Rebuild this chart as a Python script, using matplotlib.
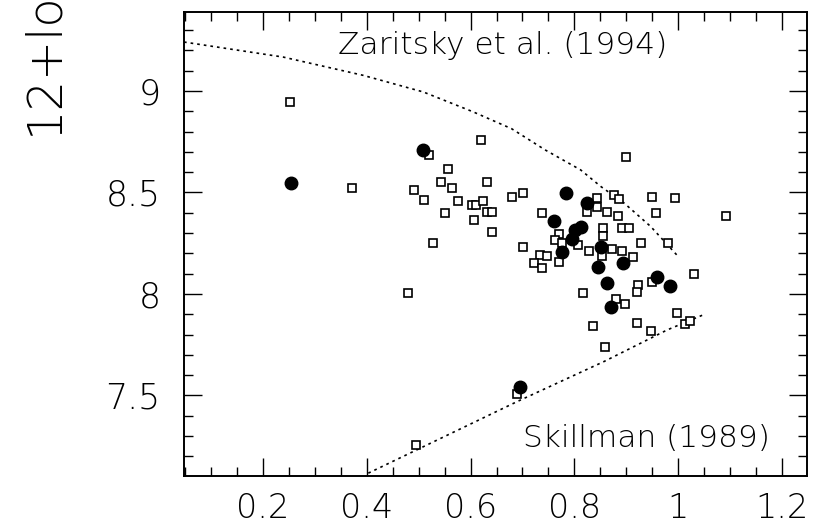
import matplotlib
matplotlib.use("Agg")
import matplotlib.pyplot as plt
from matplotlib.ticker import MultipleLocator, FuncFormatter

# ---- data ----
sq_x = [0.2515, 0.372, 0.480, 0.491, 0.511, 0.519, 0.527, 0.543, 0.551, 0.556,
        0.564, 0.576, 0.603, 0.611, 0.607, 0.620, 0.623, 0.631, 0.631, 0.642,
        0.641, 0.680, 0.701, 0.738, 0.844, 0.824, 0.844, 0.863, 0.876, 0.885,
        0.884, 0.900, 0.949, 0.994, 0.958, 1.092, 0.856, 0.892, 0.905, 0.771,
        0.856, 0.762, 0.777, 0.807, 0.929, 0.981, 0.701, 0.828, 0.873, 0.892,
        0.913, 0.854, 0.733, 0.748, 0.722, 0.738, 0.771, 1.031, 0.816, 0.923,
        0.921, 0.950, 0.880, 0.897, 0.997, 1.013, 1.022, 0.836, 0.921, 0.948,
        0.859, 0.690, 0.495]
sq_y = [8.946, 8.52, 8.003, 8.512, 8.463, 8.685, 8.253, 8.552, 8.398, 8.614,
        8.52, 8.46, 8.44, 8.44, 8.365, 8.76, 8.46, 8.553, 8.405, 8.405,
        8.305, 8.479, 8.499, 8.398, 8.471, 8.405, 8.426, 8.405, 8.488, 8.467,
        8.386, 8.676, 8.479, 8.471, 8.398, 8.386, 8.324, 8.324, 8.324, 8.294,
        8.283, 8.266, 8.25, 8.241, 8.253, 8.25, 8.23, 8.213, 8.222, 8.213,
        8.181, 8.187, 8.192, 8.187, 8.151, 8.127, 8.159, 8.097, 8.003, 8.044,
        8.011, 8.058, 7.974, 7.951, 7.908, 7.853, 7.866, 7.844, 7.856, 7.815,
        7.737, 7.507, 7.256]

dot_x = [0.2535, 0.509, 0.783, 0.760, 0.824, 0.812, 0.802, 0.796, 0.851, 0.777,
         0.894, 0.845, 0.862, 0.959, 0.984, 0.870, 0.696]
dot_y = [8.545, 8.71, 8.496, 8.361, 8.447, 8.332, 8.315, 8.27, 8.233, 8.208,
         8.154, 8.135, 8.053, 8.085, 8.041, 7.934, 7.543]

zar_x = [0.048, 0.239, 0.393, 0.509, 0.605, 0.679, 0.744, 0.812, 0.851, 0.896, 0.947, 0.999]
zar_y = [9.241, 9.167, 9.077, 8.995, 8.897, 8.814, 8.709, 8.611, 8.529, 8.447, 8.332, 8.187]

ski_x = [0.403, 0.69, 0.857, 0.979, 1.051]
ski_y = [7.117, 7.47, 7.667, 7.823, 7.90]

x_ticks = [0.2, 0.4, 0.6, 0.8, 1.0, 1.2]
y_ticks = [7.5, 8.0, 8.5, 9.0]
ylabel = "12+log(O/H)"
label_top = "Zaritsky et al. (1994)"
label_bottom = "Skillman (1989)"

# ---- figure ----
W, H = 813, 526
fig = plt.figure(figsize=(W / 100, H / 100), dpi=100)
ax = fig.add_axes([184 / W, 1 - 476 / H, (807 - 184) / W, (476 - 12) / H])

dash = (0, (1.6, 2.4))
ax.plot(zar_x, zar_y, color="black", lw=1.2, linestyle=dash, zorder=2)
ax.plot(ski_x, ski_y, color="black", lw=1.2, linestyle=dash, zorder=2)

ax.plot(sq_x, sq_y, linestyle="none", marker="s", markersize=6.2,
        markerfacecolor="white", markeredgecolor="black", markeredgewidth=1.2, zorder=3)
ax.plot(dot_x, dot_y, linestyle="none", marker="o", markersize=9,
        markerfacecolor="black", markeredgecolor="black", zorder=4)

ax.set_xlim(0.048, 1.248)
ax.set_ylim(7.103, 9.389)

ax.set_xticks(x_ticks)
ax.set_yticks(y_ticks)
ax.xaxis.set_minor_locator(MultipleLocator(0.05))
ax.yaxis.set_minor_locator(MultipleLocator(0.1))
fmt = FuncFormatter(lambda v, p: "%g" % round(v, 3))
ax.xaxis.set_major_formatter(fmt)
ax.yaxis.set_major_formatter(fmt)

for s in ax.spines.values():
    s.set_linewidth(1.4)

ax.tick_params(which="both", direction="in", top=True, right=True, width=1.0,
               colors="black")
ax.tick_params(which="major", length=13)
ax.tick_params(which="minor", length=6.5)
ax.tick_params(axis="x", which="major", pad=11.5, labelsize=24)
ax.tick_params(axis="y", which="major", pad=17, labelsize=25)
for lab in ax.get_xticklabels() + ax.get_yticklabels():
    lab.set_fontweight("light")

ax.text(0.661, 9.182, label_top, ha="center", va="baseline", fontsize=22.5,
        fontweight="light", zorder=5)
ax.text(0.9385, 7.246, label_bottom, ha="center", va="baseline", fontsize=22.5,
        fontweight="light", zorder=5)

fig.text(68 / W, 1 - 135 / H, ylabel, rotation=90, ha="right", va="bottom",
         fontsize=34.5, fontweight="light")

fig.savefig("out.png", dpi=100, facecolor="white")
